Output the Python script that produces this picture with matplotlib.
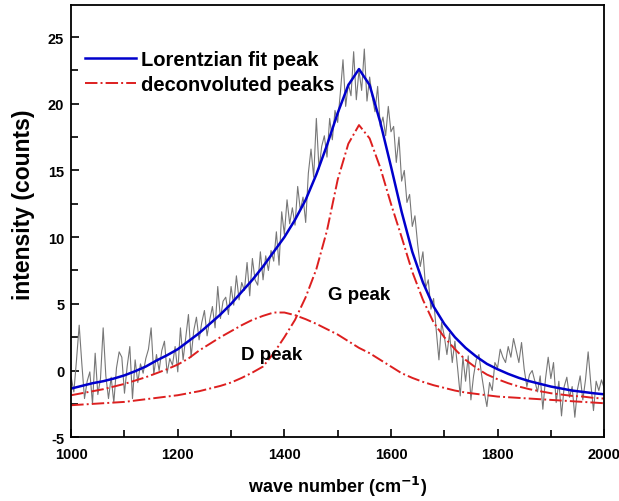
import numpy as np
import matplotlib
matplotlib.use("Agg")
import matplotlib.pyplot as plt
from matplotlib.ticker import MultipleLocator

plt.rcParams['font.family'] = ['Liberation Sans', 'DejaVu Sans']
plt.rcParams['font.weight'] = 'bold'
plt.rcParams['axes.unicode_minus'] = False

# measured spectrum, 1000..2000 step 5
wave = np.arange(1000, 2001, 5)
counts = [
    -0.5, -1.6, 0.8, 3.4, 0.5, -2.1, -0.8, -0.1, -2.5, 1.3,
    -1.8, -0.6, 3.2, -0.4, -2.1, -0.5, -2.4, 0.2, 1.4, 1.0,
    -1.7, 0.3, 1.8, -2.1, 0.8, -0.9, 0.5, -0.2, 0.9, 1.6,
    3.2, -0.3, 1.2, 0.0, 1.5, 2.2, -0.2, 0.9, 0.4, 1.8,
    -0.1, 3.2, 0.8, 2.5, 4.2, 1.0, 3.0, 4.0, 2.3, 3.6,
    4.5, 2.6, 3.8, 4.8, 3.2, 6.3, 3.9, 5.2, 5.5, 4.2,
    6.3, 4.9, 7.1, 5.3, 6.6, 6.0, 8.1, 5.6, 8.4, 6.8,
    6.4, 8.9, 6.8, 8.6, 7.5, 9.0, 8.2, 10.4, 7.9, 11.9,
    10.2, 12.8, 11.0, 12.2, 10.9, 13.8, 12.0, 13.0, 11.1, 14.8,
    16.6, 14.5, 18.9, 15.1, 16.8, 17.6, 16.0, 18.9, 17.3, 19.5,
    18.6, 20.8, 23.3, 19.8, 21.5, 20.6, 23.9, 20.3, 22.5, 21.0,
    24.1, 20.2, 22.0, 20.5, 19.4, 21.3, 18.3, 19.0, 17.6, 19.8,
    17.9, 18.3, 15.6, 17.5, 14.2, 15.0, 12.6, 13.2, 10.8, 11.6,
    9.5, 7.8, 8.9, 6.2, 6.8, 4.6, 5.4, 3.0, 0.8, 3.6,
    2.6, 1.2, 2.8, 0.6, 2.2, 0.2, -1.9, 1.0, -0.8, 1.1,
    -2.2, -0.4, 0.8, 1.2, -0.3, -1.6, -2.7, -0.9, -1.5, 0.6,
    0.2, 1.6, 1.0, 0.6, 1.8, 1.0, 2.4, 1.5, 0.6, 2.1,
    0.1, -1.2, -0.3, 0.0, -0.8, -1.6, -0.4, -2.9, -0.6, 1.0,
    -0.6, 0.6, -2.4, -0.8, -3.4, -1.2, -0.5, -2.0, -1.2, -3.5,
    -1.4, -0.4, -2.2, -0.7, 1.4, -1.0, -3.0, -0.8, -1.5, -0.7, -1.3,
]

# fitted curves, 1000..2000 step 20
fit_x = np.arange(1000, 2001, 20)
fit_total = [
    -1.35, -1.15, -0.95, -0.8, -0.6, -0.36, -0.05, 0.3, 0.75, 1.15,
    1.6, 2.2, 2.8, 3.5, 4.2, 5.0, 5.9, 6.8, 7.8, 8.9,
    10.0, 11.3, 12.8, 14.7, 16.9, 19.3, 21.4, 22.6, 21.4, 18.6,
    15.3, 11.9, 8.9, 6.6, 4.8, 3.5, 2.5, 1.7, 1.05, 0.5,
    0.1, -0.25, -0.55, -0.8, -1.0, -1.2, -1.35, -1.5, -1.6, -1.7, -1.78,
]
g_peak = [
    -2.6, -2.55, -2.5, -2.45, -2.4, -2.35, -2.25, -2.15, -2.05, -1.95,
    -1.85, -1.7, -1.55, -1.35, -1.15, -0.9, -0.55, -0.15, 0.3, 1.3,
    2.5, 3.8, 5.5, 7.6, 10.5, 14.3, 17.0, 18.4, 17.4, 15.2,
    12.5, 10.0, 7.4, 5.3, 3.6, 2.5, 1.6, 0.8, 0.2, -0.3,
    -0.65, -0.95, -1.2, -1.4, -1.55, -1.7, -1.8, -1.9, -1.95, -2.05, -2.1,
]
d_peak = [
    -1.85, -1.7, -1.55, -1.4, -1.2, -1.0, -0.75, -0.5, -0.2, 0.1,
    0.45, 0.9, 1.5, 2.0, 2.5, 2.95, 3.4, 3.8, 4.1, 4.35,
    4.35, 4.15, 3.85, 3.5, 3.1, 2.7, 2.2, 1.7, 1.3, 0.8,
    0.3, -0.2, -0.55, -0.85, -1.1, -1.3, -1.5, -1.65, -1.75, -1.85,
    -1.95, -2.0, -2.05, -2.1, -2.15, -2.2, -2.25, -2.3, -2.35, -2.4, -2.45,
]

fig = plt.figure(figsize=(6.19, 5.02), dpi=100)
ax = fig.add_axes([0.115, 0.127, 0.861, 0.861])

ax.plot(wave, counts, color='#777777', lw=0.8)
ax.plot(fit_x, fit_total, color='#0000cc', lw=1.8, label='Lorentzian fit peak')
ax.plot(fit_x, g_peak, color='#dd1f1f', lw=1.4, ls='-.', label='deconvoluted peaks')
ax.plot(fit_x, d_peak, color='#dd1f1f', lw=1.4, ls='-.')

ax.text(1540, 5.7, 'G peak', ha='center', va='center', fontsize=13.5, fontweight='bold')
ax.text(1377, 1.2, 'D peak', ha='center', va='center', fontsize=13.5, fontweight='bold')

ax.set_xlim(1000, 2000)
ax.set_ylim(-5, 27.4)
ax.xaxis.set_major_locator(MultipleLocator(200))
ax.xaxis.set_minor_locator(MultipleLocator(100))
ax.yaxis.set_major_locator(MultipleLocator(5))
ax.yaxis.set_minor_locator(MultipleLocator(2.5))
ax.tick_params(which='both', direction='in', top=False, right=False, labelsize=10.5, width=1.2)
ax.tick_params(which='major', length=6)
ax.tick_params(which='minor', length=5)
ax.tick_params(axis='x', pad=7)
ax.tick_params(axis='y', pad=5)
for s in ax.spines.values():
    s.set_linewidth(1.3)

ax.set_xlabel('wave number (cm$^{\\mathbf{-1}}$)', fontsize=13, fontweight='bold', labelpad=9)
ax.set_ylabel('intensity (counts)', fontsize=16.5, fontweight='bold')
ax.yaxis.set_label_coords(-0.068, 0.54)

ax.legend(loc='center left', bbox_to_anchor=(0.0, 0.845), frameon=False, fontsize=14.5,
          handlelength=2.5, handletextpad=0.25, labelspacing=0.3, borderaxespad=0.3)

fig.savefig('out.png', dpi=100)
